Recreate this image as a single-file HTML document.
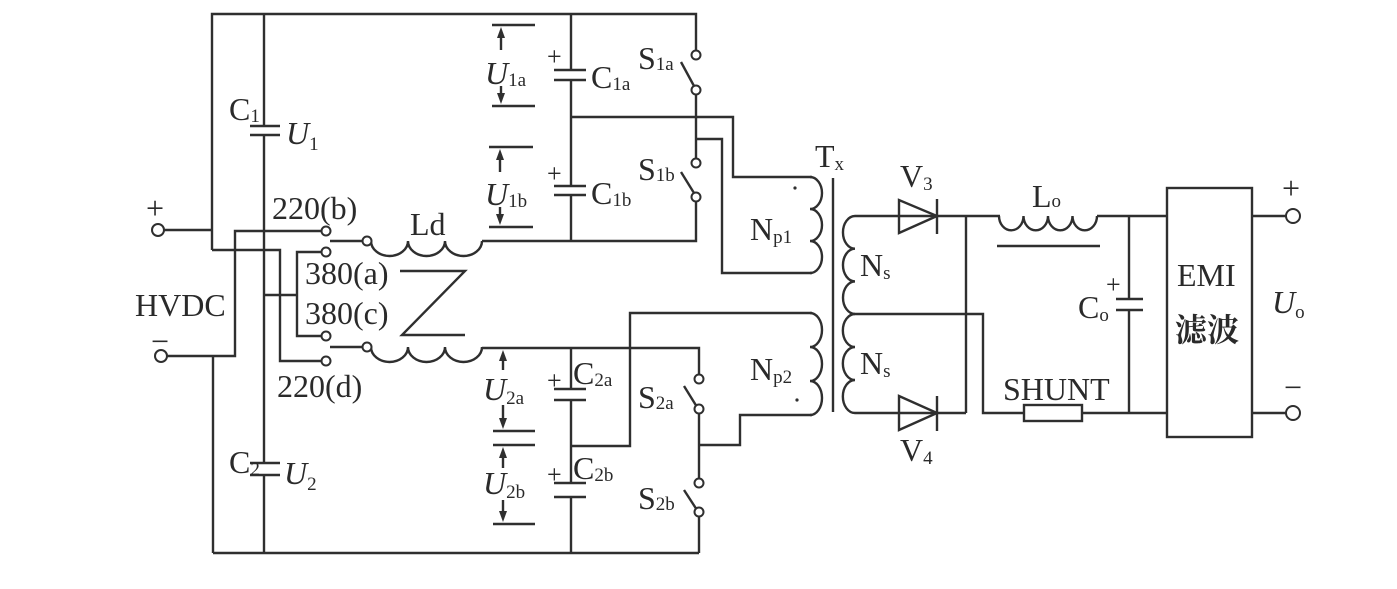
<!DOCTYPE html>
<html><head><meta charset="utf-8"><style>
html,body{margin:0;padding:0;background:#fff;}
svg{display:block}
text{font-family:"Liberation Serif","Noto Serif CJK SC",serif;fill:#2a2a2a}
</style></head><body>
<svg width="1397" height="589" viewBox="0 0 1397 589" xmlns="http://www.w3.org/2000/svg">
<g stroke="#2f2f2f" stroke-width="2.4" fill="none">
<polyline points="212,250 212,14 696,14 696,51"/>
<line x1="264" y1="14" x2="264" y2="126"/>
<line x1="264" y1="135" x2="264" y2="463"/>
<line x1="264" y1="475" x2="264" y2="553"/>
<line x1="250" y1="126" x2="280" y2="126"/><line x1="250" y1="135" x2="280" y2="135"/>
<line x1="250" y1="463" x2="280" y2="463"/><line x1="250" y1="475" x2="280" y2="475"/>
<line x1="164" y1="230" x2="212" y2="230"/>
<polyline points="164,356 235,356 235,231 322,231"/>
<polyline points="212,250 280,250 280,361 322,361"/>
<polyline points="264,295 297,295"/>
<polyline points="322,252 297,252 297,336 322,336"/>
<line x1="213" y1="356" x2="213" y2="553"/>
<line x1="213" y1="553" x2="699" y2="553"/>
<line x1="330" y1="241" x2="363" y2="241"/>
<path d="M371,241 a18.5,15 0 0 0 37,0 a18.5,15 0 0 0 37,0 a18.5,15 0 0 0 37,0"/>
<polyline points="482,241 696,241 696,200"/>
<line x1="330" y1="347" x2="363" y2="347"/>
<path d="M371,347 a18.5,15 0 0 0 37,0 a18.5,15 0 0 0 37,0 a18.5,15 0 0 0 37,0"/>
<polyline points="482,348 699,348 699,375"/>
<polyline points="400,271 465,271 402,335 465,335"/>
<line x1="571" y1="14" x2="571" y2="70"/>
<line x1="571" y1="80" x2="571" y2="186"/>
<line x1="571" y1="195" x2="571" y2="241"/>
<line x1="554" y1="70" x2="586" y2="70"/><line x1="554" y1="80" x2="586" y2="80"/>
<line x1="554" y1="186" x2="586" y2="186"/><line x1="554" y1="195" x2="586" y2="195"/>
<polyline points="571,117 733,117 733,177 812,177"/>
<line x1="696" y1="94" x2="696" y2="159"/>
<polyline points="696,139 722,139 722,273 812,273"/>
<line x1="681" y1="62" x2="694" y2="86"/>
<line x1="681" y1="172" x2="694" y2="193"/>
<line x1="571" y1="348" x2="571" y2="389"/>
<line x1="571" y1="400" x2="571" y2="483"/>
<line x1="571" y1="497" x2="571" y2="553"/>
<line x1="554" y1="389" x2="586" y2="389"/><line x1="554" y1="400" x2="586" y2="400"/>
<line x1="554" y1="483" x2="586" y2="483"/><line x1="554" y1="497" x2="586" y2="497"/>
<polyline points="571,446 630,446 630,313 812,313"/>
<line x1="699" y1="413" x2="699" y2="479"/>
<polyline points="699,445 740,445 740,415 812,415"/>
<line x1="699" y1="516" x2="699" y2="553"/>
<line x1="684" y1="386" x2="697" y2="407"/>
<line x1="684" y1="490" x2="697" y2="510"/>
<line x1="492" y1="25" x2="535" y2="25"/><line x1="492" y1="106" x2="535" y2="106"/>
<line x1="501" y1="35" x2="501" y2="50"/><line x1="501" y1="86" x2="501" y2="98"/>
<line x1="489" y1="147" x2="533" y2="147"/><line x1="489" y1="227" x2="533" y2="227"/>
<line x1="500" y1="157" x2="500" y2="172"/><line x1="500" y1="207" x2="500" y2="219"/>
<line x1="503" y1="357" x2="503" y2="370"/><line x1="503" y1="405" x2="503" y2="423"/>
<line x1="493" y1="431" x2="535" y2="431"/><line x1="493" y1="445" x2="535" y2="445"/>
<line x1="503" y1="455" x2="503" y2="468"/><line x1="503" y1="500" x2="503" y2="516"/>
<line x1="493" y1="524" x2="535" y2="524"/>
<path d="M810,177 a12,16 0 0 1 0,32 a12,16 0 0 1 0,32 a12,16 0 0 1 0,32"/>
<path d="M810,313 a12,17 0 0 1 0,34 a12,17 0 0 1 0,34 a12,17 0 0 1 0,34"/>
<line x1="833" y1="178" x2="833" y2="412"/>
<path d="M855,216 a12,16.3 0 0 0 0,32.7 a12,16.3 0 0 0 0,32.7 a12,16.3 0 0 0 0,32.6"/>
<path d="M855,314 a12,16.3 0 0 0 0,33 a12,16.3 0 0 0 0,33 a12,16.3 0 0 0 0,33"/>
<line x1="855" y1="216" x2="1000" y2="216"/>
<polygon points="899,200 899,233 937,216"/>
<line x1="937" y1="199" x2="937" y2="234"/>
<line x1="855" y1="413" x2="966" y2="413"/>
<polygon points="899,396 899,430 937,413"/>
<line x1="937" y1="396" x2="937" y2="431"/>
<line x1="966" y1="216" x2="966" y2="413"/>
<polyline points="855,314 983,314 983,413 1024,413"/>
<rect x="1024" y="405" width="58" height="16"/>
<line x1="1082" y1="413" x2="1167" y2="413"/>
<path d="M999,216 a12,14 0 0 0 24.5,0 a12,14 0 0 0 24.5,0 a12,14 0 0 0 24.5,0 a12,14 0 0 0 24.5,0"/>
<line x1="997" y1="246" x2="1100" y2="246"/>
<line x1="1097" y1="216" x2="1167" y2="216"/>
<line x1="1129" y1="216" x2="1129" y2="299"/>
<line x1="1129" y1="310" x2="1129" y2="413"/>
<line x1="1116" y1="299" x2="1143" y2="299"/><line x1="1116" y1="310" x2="1143" y2="310"/>
<rect x="1167" y="188" width="85" height="249"/>
<line x1="1252" y1="216" x2="1286" y2="216"/>
<line x1="1252" y1="413" x2="1286" y2="413"/>
</g>
<g fill="#2f2f2f">
<polygon points="501,27 497,38 505,38"/><polygon points="501,104 497,93 505,93"/>
<polygon points="500,149 496,160 504,160"/><polygon points="500,225 496,214 504,214"/>
<polygon points="503,350 499,361 507,361"/><polygon points="503,429 499,418 507,418"/>
<polygon points="503,447 499,458 507,458"/><polygon points="503,522 499,511 507,511"/>
<circle cx="795" cy="188" r="1.6"/><circle cx="797" cy="400" r="1.6"/>
</g>
<g stroke="#2f2f2f" stroke-width="2" fill="#fff">
<circle cx="158" cy="230" r="6"/><circle cx="161" cy="356" r="6"/>
<circle cx="326" cy="231" r="4.5"/><circle cx="326" cy="252" r="4.5"/>
<circle cx="326" cy="336" r="4.5"/><circle cx="326" cy="361" r="4.5"/>
<circle cx="367" cy="241" r="4.5"/><circle cx="367" cy="347" r="4.5"/>
<circle cx="696" cy="55" r="4.5"/><circle cx="696" cy="90" r="4.5"/>
<circle cx="696" cy="163" r="4.5"/><circle cx="696" cy="197" r="4.5"/>
<circle cx="699" cy="379" r="4.5"/><circle cx="699" cy="409" r="4.5"/>
<circle cx="699" cy="483" r="4.5"/><circle cx="699" cy="512" r="4.5"/>
<circle cx="1293" cy="216" r="7"/><circle cx="1293" cy="413" r="7"/>
</g>
<g font-size="32">
<text x="146" y="219">+</text><text x="151" y="352">−</text>
<text x="135" y="316">HVDC</text>
<text x="229" y="120">C<tspan font-size="19" dy="2">1</tspan></text>
<text x="286" y="144" font-style="italic">U<tspan font-size="19" dy="6" font-style="normal">1</tspan></text>
<text x="229" y="473">C<tspan font-size="19" dy="2">2</tspan></text>
<text x="284" y="484" font-style="italic">U<tspan font-size="19" dy="6" font-style="normal">2</tspan></text>
<text x="272" y="219">220(b)</text>
<text x="305" y="284">380(a)</text>
<text x="305" y="324">380(c)</text>
<text x="277" y="397">220(d)</text>
<text x="410" y="235">Ld</text>
<text x="485" y="84" font-style="italic">U<tspan font-size="19" dy="2" font-style="normal">1a</tspan></text>
<text x="485" y="205" font-style="italic">U<tspan font-size="19" dy="2" font-style="normal">1b</tspan></text>
<text x="483" y="400" font-style="italic">U<tspan font-size="19" dy="4" font-style="normal">2a</tspan></text>
<text x="483" y="494" font-style="italic">U<tspan font-size="19" dy="4" font-style="normal">2b</tspan></text>
<text x="547" y="65" font-size="26">+</text>
<text x="547" y="182" font-size="26">+</text>
<text x="547" y="389" font-size="26">+</text>
<text x="547" y="483" font-size="26">+</text>
<text x="591" y="88">C<tspan font-size="19" dy="2">1a</tspan></text>
<text x="591" y="204">C<tspan font-size="19" dy="2">1b</tspan></text>
<text x="573" y="384">C<tspan font-size="19" dy="2">2a</tspan></text>
<text x="573" y="479">C<tspan font-size="19" dy="2">2b</tspan></text>
<text x="638" y="69">S<tspan font-size="19" dy="1">1a</tspan></text>
<text x="638" y="180">S<tspan font-size="19" dy="1">1b</tspan></text>
<text x="638" y="408">S<tspan font-size="19" dy="1">2a</tspan></text>
<text x="638" y="509">S<tspan font-size="19" dy="1">2b</tspan></text>
<text x="815" y="167">T<tspan font-size="19" dy="3">x</tspan></text>
<text x="750" y="240">N<tspan font-size="19" dy="3">p1</tspan></text>
<text x="750" y="380">N<tspan font-size="19" dy="3">p2</tspan></text>
<text x="860" y="276">N<tspan font-size="19" dy="3">s</tspan></text>
<text x="860" y="374">N<tspan font-size="19" dy="3">s</tspan></text>
<text x="900" y="187">V<tspan font-size="19" dy="3">3</tspan></text>
<text x="900" y="461">V<tspan font-size="19" dy="3">4</tspan></text>
<text x="1032" y="207">L<tspan font-size="19">o</tspan></text>
<text x="1078" y="318">C<tspan font-size="19" dy="3">o</tspan></text>
<text x="1106" y="293" font-size="26">+</text>
<text x="1003" y="400">SHUNT</text>
<text x="1177" y="286">EMI</text>
<text x="1175" y="341" font-family="'Noto Sans CJK SC',sans-serif" font-weight="bold" font-size="32">滤波</text>
<text x="1282" y="199">+</text><text x="1284" y="398">−</text>
<text x="1272" y="313" font-style="italic">U<tspan font-size="19" dy="5" font-style="normal">o</tspan></text>
</g>
</svg>
</body></html>
